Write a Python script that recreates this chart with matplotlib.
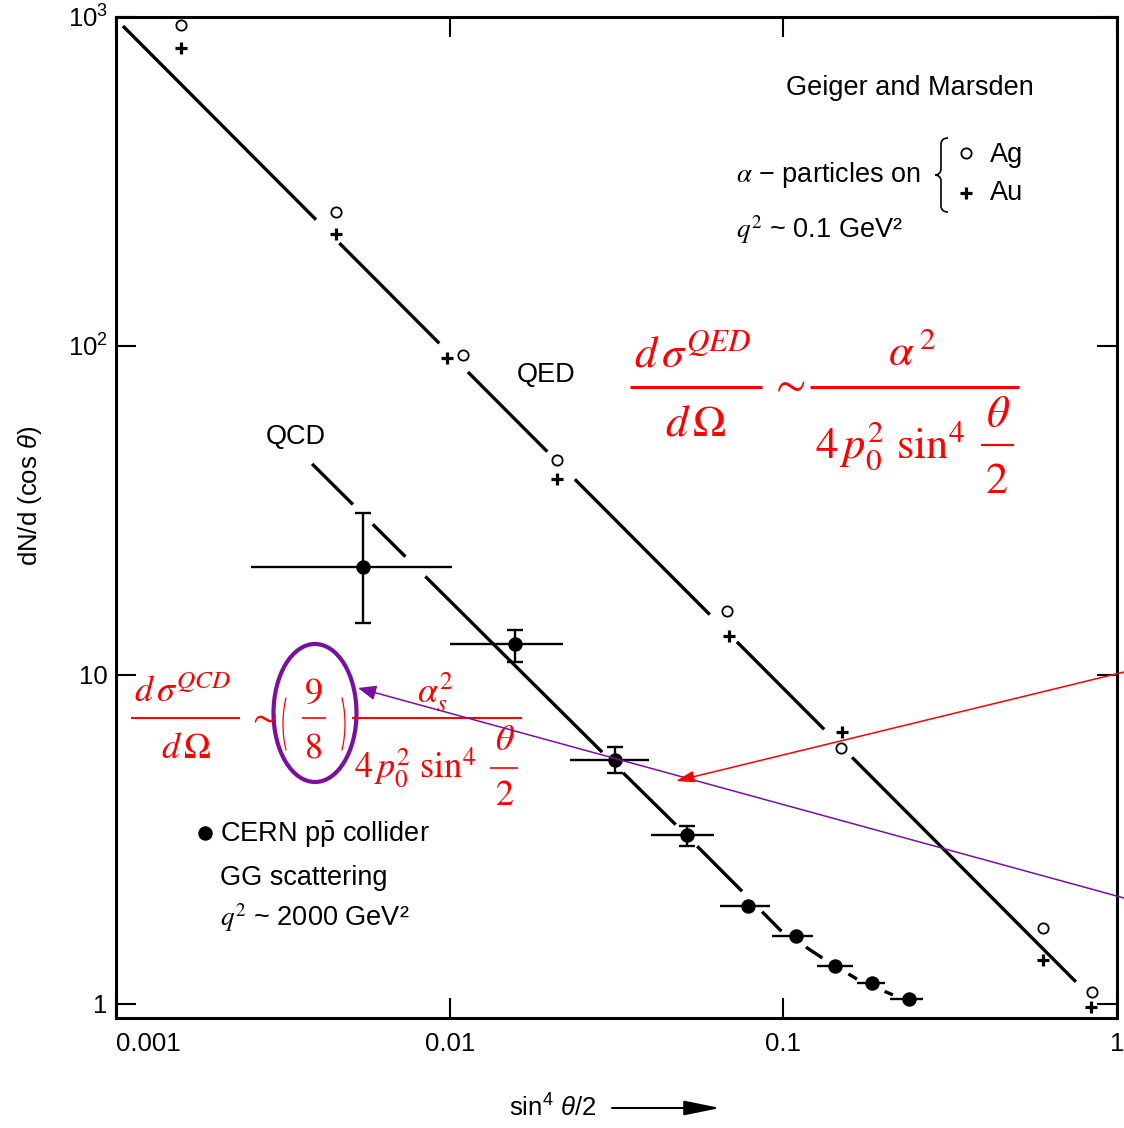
import numpy as np
import matplotlib
matplotlib.use("Agg")
import matplotlib.pyplot as plt
from matplotlib.patches import Ellipse, PathPatch, Arc, FancyArrowPatch
from matplotlib.lines import Line2D
from matplotlib.path import Path
from matplotlib.ticker import FixedLocator, FixedFormatter, NullLocator

plt.rcParams.update({
    "font.family": ["Liberation Sans", "DejaVu Sans"],
    "mathtext.fontset": "custom",
    "mathtext.rm": "Liberation Sans",
    "mathtext.it": "Liberation Sans:italic",
    "mathtext.bf": "Liberation Sans:bold",
})

# ---- Geiger & Marsden: alpha particles on silver (Ag) and gold (Au) ----
ag_x = [0.00157, 0.00456, 0.01096, 0.0210, 0.0678, 0.1490, 0.600, 0.841]
ag_y = [945, 255, 94.0, 45.0, 15.6, 6.0, 1.70, 1.09]
au_x = [0.00157, 0.00456, 0.00982, 0.0210, 0.0687, 0.1498, 0.600, 0.835]
au_y = [805, 219, 91.9, 39.4, 13.1, 6.71, 1.36, 0.976]

# QED (Rutherford) expectation, a straight line in log-log
qed_curve_x = [0.001049, 0.753]
qed_curve_y = [939, 1.167]

# ---- CERN p-pbar collider, gluon-gluon scattering ----
cern_x = [0.00550, 0.01569, 0.0313, 0.0514, 0.0783, 0.1091, 0.1428, 0.1843, 0.2379]
cern_y = [21.3, 12.4, 5.51, 3.26, 1.99, 1.61, 1.30, 1.158, 1.035]
cern_x_lo = [0.00254, 0.01002, 0.02293, 0.0401, 0.0646, 0.0924, 0.1261, 0.1662, 0.2087]
cern_x_hi = [0.01016, 0.02185, 0.03957, 0.0619, 0.0912, 0.1227, 0.1617, 0.2016, 0.262]
cern_y_lo = [14.4, 10.95, 5.04, 3.02, 1.99, 1.61, 1.30, 1.158, 1.035]
cern_y_hi = [31.1, 13.7, 6.04, 3.475, 1.99, 1.61, 1.30, 1.158, 1.035]

# QCD expectation
qcd_curve_x = [0.00387, 0.0278, 0.0470, 0.0736, 0.0977, 0.1379, 0.1697, 0.2130]
qcd_curve_y = [43.8, 6.00, 3.55, 2.25, 1.678, 1.332, 1.175, 1.065]

x_ticks = [0.001, 0.01, 0.1, 1]
x_tick_labels = ["0.001", "0.01", "0.1", "1"]
y_ticks = [1, 10, 100, 1000]
y_tick_labels = ["1", "10", r"$10^2$", r"$10^3$"]

# where the theory curves are interrupted by the data marks
QED_BREAKS = [1, 2, 3, 4, 5]
QCD_MARKER_BREAKS = [2, 3, 4, 5, 6, 7, 8]
QCD_BAR_BREAKS = [0]

RED = "#ff0000"
PURPLE = "#7a0fa0"

W, H = 1124, 1128
fig = plt.figure(figsize=(W / 100, H / 100), dpi=100)
ax = fig.add_axes([116 / W, 1 - 1018 / H, 1001 / W, 1001 / H])
ax.set_xscale("log")
ax.set_yscale("log")
ax.set_xlim(0.001, 1.0)
ax.set_ylim(0.906, 1000)

for s in ax.spines.values():
    s.set_linewidth(2.2)

ax.xaxis.set_major_locator(FixedLocator(x_ticks))
ax.xaxis.set_major_formatter(FixedFormatter(x_tick_labels))
ax.yaxis.set_major_locator(FixedLocator(y_ticks))
ax.yaxis.set_major_formatter(FixedFormatter(y_tick_labels))
ax.xaxis.set_minor_locator(NullLocator())
ax.yaxis.set_minor_locator(NullLocator())
ax.tick_params(which="major", direction="in", length=14.5, width=1.5,
               top=True, right=True, labelsize=18.5, colors="black")
ax.tick_params(axis="x", pad=10)
ax.tick_params(axis="y", pad=6)
ax.get_xticklabels()[0].set_horizontalalignment("left")


def dense_line(xs, ys, step=0.5):
    pts = ax.transData.transform(np.column_stack([xs, ys]))
    parts = []
    for p0, p1 in zip(pts[:-1], pts[1:]):
        n = max(int(np.hypot(*(p1 - p0)) / step), 1)
        t = np.linspace(0, 1, n + 1)[:, None]
        seg = p0 + t * (p1 - p0)
        parts.append(seg if not parts else seg[1:])
    return np.vstack(parts)


def draw_broken(xs, ys, holes, **kw):
    d = dense_line(xs, ys)
    keep = np.ones(len(d), bool)
    for c, r in holes:
        keep &= np.hypot(d[:, 0] - c[0], d[:, 1] - c[1]) >= r
    d[~keep] = np.nan
    data = ax.transData.inverted().transform(d)
    ax.plot(data[:, 0], data[:, 1], **kw)


def to_disp(x, y):
    return ax.transData.transform((x, y))


# QED curve with gaps at the Geiger-Marsden points
holes = []
for i in QED_BREAKS:
    c = 0.5 * (to_disp(ag_x[i], ag_y[i]) + to_disp(au_x[i], au_y[i]))
    holes.append((c, 20))
draw_broken(qed_curve_x, qed_curve_y, holes, color="black", lw=2.4,
            solid_capstyle="butt", zorder=2)

# QCD curve: gaps at the markers and where it crosses error bars
holes = [(to_disp(cern_x[i], cern_y[i]), 15) for i in QCD_MARKER_BREAKS]
dq = dense_line(qcd_curve_x, qcd_curve_y)
for i in QCD_BAR_BREAKS:
    cx, cy = to_disp(cern_x[i], cern_y[i])
    xl, _ = to_disp(cern_x_lo[i], cern_y[i])
    xh, _ = to_disp(cern_x_hi[i], cern_y[i])
    _, yl = to_disp(cern_x[i], cern_y_lo[i])
    _, yh = to_disp(cern_x[i], cern_y_hi[i])
    k = np.where(np.diff(np.sign(dq[:, 0] - cx)) != 0)[0]
    for j in k:
        if yl - 3 <= dq[j, 1] <= yh + 3:
            holes.append((dq[j], 14))
    k = np.where(np.diff(np.sign(dq[:, 1] - cy)) != 0)[0]
    for j in k:
        if xl <= dq[j, 0] <= xh:
            holes.append((dq[j], 14))
draw_broken(qcd_curve_x, qcd_curve_y, holes, color="black", lw=2.4,
            solid_capstyle="butt", zorder=2)

# data points
ax.plot(ag_x, ag_y, "o", ms=7.4, mfc="none", mec="black", mew=1.3, zorder=4)
ax.plot(au_x, au_y, "+", ms=8.5, mec="black", mew=2.3, zorder=4)

cx_arr = np.array(cern_x)
cy_arr = np.array(cern_y)
xerr = [cx_arr - np.array(cern_x_lo), np.array(cern_x_hi) - cx_arr]
ax.errorbar(cern_x, cern_y, xerr=xerr, fmt="none", ecolor="black",
            elinewidth=1.7, capsize=0, zorder=3)
ylo = np.array(cern_y_lo)
yhi = np.array(cern_y_hi)
sel = yhi > ylo
ax.errorbar(cx_arr[sel], cy_arr[sel], yerr=[cy_arr[sel] - ylo[sel], yhi[sel] - cy_arr[sel]],
            fmt="none", ecolor="black", elinewidth=1.7, capsize=5.5, capthick=1.7, zorder=3)
ax.plot(cern_x, cern_y, "o", ms=9.4, color="black", zorder=4)

# axis labels
ax.set_ylabel(r"dN/d (cos $\theta$)", fontsize=18.5, va="center")
ax.yaxis.set_label_coords(-0.0859, 0.522)
ax.set_xlabel(r"sin$^4$ $\theta$/2", fontsize=18.5, va="center")
ax.xaxis.set_label_coords(0.4366, -0.0899)
ax.annotate("", xy=(0.6034, -0.0899), xytext=(0.4955, -0.0899),
            xycoords="axes fraction", textcoords="axes fraction",
            arrowprops=dict(arrowstyle="-|>,head_length=2.2,head_width=0.45",
                            mutation_scale=10, lw=1.5, color="black",
                            shrinkA=0, shrinkB=0),
            annotation_clip=False)

# annotations in the plot area
TXT = dict(transform=ax.transAxes, fontsize=19.5, color="black")
ax.text(0.6693, 0.9291, "Geiger and Marsden", ha="left", va="center", **TXT)
ax.text(0.6194, 0.8422, r"$\alpha$ − particles on", ha="left", va="center",
        math_fontfamily="stix", **TXT)
ax.plot([0.8492], [0.8641], "o", ms=7.4, mfc="none", mec="black", mew=1.3,
        transform=ax.transAxes, clip_on=False)
ax.plot([0.8492], [0.8242], "+", ms=8.5, mec="black", mew=2.3,
        transform=ax.transAxes, clip_on=False)
ax.text(0.8731, 0.8621, "Ag", ha="left", va="center", **TXT)
ax.text(0.8731, 0.8242, "Au", ha="left", va="center", **TXT)
ax.text(0.6194, 0.7872, r"$q^2$ ~ 0.1 GeV²", ha="left", va="center",
        math_fontfamily="stix", **TXT)


def fxy(x, y):
    """Pixel position (origin top-left) to figure fraction."""
    return (x / W, 1 - y / H)


# curly brace grouping Ag / Au
bx, top, bot, tip = 941, 138, 212, 935
mid = 0.5 * (top + bot)
verts = [fxy(948, top), fxy(944, top), fxy(bx, top + 2), fxy(bx, top + 6),
         fxy(bx, mid - 6),
         fxy(bx, mid - 2), fxy(tip + 3, mid), fxy(tip, mid),
         fxy(tip + 3, mid), fxy(bx, mid + 2), fxy(bx, mid + 6),
         fxy(bx, bot - 6),
         fxy(bx, bot - 2), fxy(944, bot), fxy(948, bot)]
codes = [Path.MOVETO, Path.CURVE4, Path.CURVE4, Path.CURVE4,
         Path.LINETO,
         Path.CURVE4, Path.CURVE4, Path.CURVE4,
         Path.CURVE4, Path.CURVE4, Path.CURVE4,
         Path.LINETO,
         Path.CURVE4, Path.CURVE4, Path.CURVE4]
fig.patches.append(PathPatch(Path(verts, codes), transform=fig.transFigure,
                             fill=False, lw=1.2, color="black"))

ax.text(0.4296, 0.6424, "QED", ha="center", va="center", **TXT)
ax.text(0.1798, 0.5804, "QCD", ha="center", va="center", **TXT)

ax.plot([0.0889], [0.1848], "o", ms=9.4, color="black", transform=ax.transAxes)
ax.text(0.1039, 0.1828, r"CERN p$\bar{\mathrm{p}}$ collider", ha="left", va="center", **TXT)
ax.text(0.1039, 0.1399, "GG scattering", ha="left", va="center", **TXT)
ax.text(0.1039, 0.0999, r"$q^2$ ~ 2000 GeV²", ha="left", va="center",
        math_fontfamily="stix", **TXT)


# ---- cross-section formulas (set in red, Times-like math) ----
def ftext(x, y, s, size, ha="center", va="baseline"):
    fx, fy = fxy(x, y)
    fig.text(fx, fy, s, ha=ha, va=va, fontsize=size, color=RED,
             math_fontfamily="stix", zorder=8)


def fbar(x0, x1, y, lw):
    (a, b), (c, _) = fxy(x0, y), fxy(x1, y)
    fig.add_artist(Line2D([a, c], [b, b], transform=fig.transFigure,
                          color=RED, lw=lw, solid_capstyle="butt", zorder=8))


# d sigma^QED / d Omega ~ alpha^2 / (4 p0^2 sin^4 theta/2)
fs = 32
ftext(693, 367, r"$d\,\sigma^{QED}$", fs)
fbar(630, 762, 387, 2.2)
ftext(696, 435, r"$d\,\Omega$", fs)
ftext(787, 385, r"$\sim$", fs, va="center")
ftext(912, 365, r"$\alpha^{\,2}$", fs)
fbar(810, 1019, 387, 2.2)
ftext(815, 458, r"$4\,p_0^2\,\,\sin^4$", fs, ha="left")
ftext(998, 427, r"$\theta$", fs)
fbar(981, 1014, 445, 1.6)
ftext(997, 493, r"$2$", fs)

# d sigma^QCD / d Omega ~ (9/8) alpha_s^2 / (4 p0^2 sin^4 theta/2)
fs = 26
ftext(183, 702, r"$d\,\sigma^{QCD}$", fs)
fbar(131, 240, 718, 1.5)
ftext(186, 758, r"$d\,\Omega$", fs)
ftext(262, 717, r"$\sim$", fs, va="center")
for cx_p, t1, t2 in [(313, 135.6, 224.4), (315, -44.4, 44.4)]:
    c = fxy(cx_p, 724)
    fig.add_artist(Arc(c, 60 / W, 120 / H, theta1=t1, theta2=t2,
                       transform=fig.transFigure, color=RED, lw=0.9, zorder=8))
ftext(313, 703, r"$9$", fs)
fbar(302, 326, 718, 1.2)
ftext(313, 758, r"$8$", fs)
fbar(352, 522, 718, 1.5)
ftext(435, 702, r"$\alpha_s^2$", fs)
ftext(354, 778, r"$4\,p_0^2\,\,\sin^4$", fs, ha="left")
ftext(505, 750, r"$\theta$", fs)
fbar(490, 518, 768, 1.2)
ftext(505, 805, r"$2$", fs)

# highlight of the colour factor and pointers
ax.add_patch(Ellipse((0.1988, 0.3047), 0.0829, 0.1379, transform=ax.transAxes,
                     fill=False, lw=3.0, ec=PURPLE, zorder=6))

for tip_xy, tail_xy, col, hw in [((358, 688), (W, 898), PURPLE, 0.45),
                                 ((676, 781), (W, 672), RED, 0.35)]:
    fig.add_artist(FancyArrowPatch(fxy(*tail_xy), fxy(*tip_xy),
                                   transform=fig.transFigure,
                                   arrowstyle=f"-|>,head_length=1.1,head_width={hw}",
                                   mutation_scale=10, lw=1.1, color=col,
                                   shrinkA=0, shrinkB=0, zorder=9))

fig.savefig("out.png", dpi=100)
